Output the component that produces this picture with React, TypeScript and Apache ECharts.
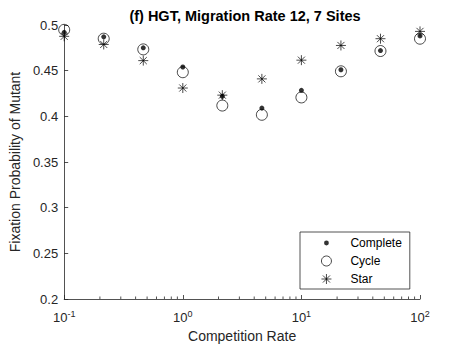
import React, { useEffect, useRef } from "react";
import * as echarts from "echarts";

const competitionRates = [0.1, 0.2154, 0.4642, 1, 2.154, 4.642, 10, 21.54, 46.42, 100];
const completeValues = [0.492, 0.487, 0.475, 0.454, 0.422, 0.409, 0.4285, 0.451, 0.472, 0.488];
const cycleValues = [0.4947, 0.485, 0.4733, 0.4483, 0.4118, 0.4017, 0.4207, 0.4493, 0.4715, 0.485];
const starValues = [0.4876, 0.4787, 0.461, 0.431, 0.4232, 0.441, 0.4615, 0.4776, 0.485, 0.493];
const minorTickValues = [
  0.2, 0.3, 0.4, 0.5, 0.6, 0.7, 0.8, 0.9,
  2, 3, 4, 5, 6, 7, 8, 9,
  20, 30, 40, 50, 60, 70, 80, 90,
];
const seriesNames = ["Complete", "Cycle", "Star"];
const titleText = "(f) HGT, Migration Rate 12, 7 Sites";
const xAxisTitle = "Competition Rate";
const yAxisTitle = "Fixation Probability of Mutant";

const FONT = "'Liberation Sans', Arial, Helvetica, sans-serif";
const AX = "#262626";
const STAR_PATH =
  "path://M5,0L5,10M0,5L10,5M1.46,1.46L8.54,8.54M1.46,8.54L8.54,1.46";
const DOT_LEGEND_PATH =
  "path://M0,0M10,10M7.4,5A2.4,2.4,0,1,1,2.6,5A2.4,2.4,0,1,1,7.4,5Z";
const OPEN_STYLE = { color: "transparent", borderColor: "#000", borderWidth: 0.9 };

function pairs(ys: number[]) {
  return competitionRates.map((x, i) => [x, ys[i]]);
}

export default function App() {
  const ref = useRef<HTMLDivElement | null>(null);
  useEffect(() => {
    if (!ref.current) return;
    const chart = echarts.init(ref.current, undefined, { renderer: "svg" });
    chart.setOption({
      animation: false,
      backgroundColor: "#ffffff",
      title: {
        text: titleText,
        left: 240,
        top: 3,
        textAlign: "center",
        textStyle: { fontFamily: FONT, fontSize: 14.5, fontWeight: "bold", color: "#000" },
      },
      grid: { left: 60, right: 44, top: 25, bottom: 48, containLabel: false },
      legend: {
        orient: "vertical",
        left: 300,
        top: 232,
        data: [
          { name: seriesNames[0], icon: DOT_LEGEND_PATH, itemStyle: { color: "#000", borderWidth: 0 } },
          { name: seriesNames[1], icon: "circle", itemStyle: OPEN_STYLE },
          { name: seriesNames[2], icon: STAR_PATH, itemStyle: OPEN_STYLE },
        ],
        backgroundColor: "#fff",
        borderColor: AX,
        borderWidth: 0.8,
        borderRadius: 0,
        padding: [4, 8, 3, 21],
        itemWidth: 10,
        itemHeight: 10,
        itemGap: 4,
        selectedMode: false,
        textStyle: {
          fontFamily: FONT,
          fontSize: 12,
          color: "#000",
          lineHeight: 14,
          padding: [0, 0, 0, 14],
        },
      },
      xAxis: {
        type: "log",
        logBase: 10,
        min: 0.1,
        max: 100,
        name: xAxisTitle,
        nameLocation: "middle",
        nameGap: 30,
        nameTextStyle: { fontFamily: FONT, fontSize: 14, color: AX },
        axisLine: { onZero: false, lineStyle: { color: AX, width: 0.8 } },
        axisTick: { inside: true, length: 4, lineStyle: { color: AX, width: 0.8 } },
        minorTick: { show: false },
        splitLine: { show: false },
        axisLabel: {
          margin: 10,
          color: AX,
          fontFamily: FONT,
          formatter: (v: number) => `{b|10}{s|${Math.round(Math.log10(v))}}`,
          rich: {
            b: { fontFamily: FONT, fontSize: 13, color: AX },
            s: { fontFamily: FONT, fontSize: 9, color: AX, verticalAlign: "top", padding: [0, 0, 8, 0] },
          },
        },
      },
      yAxis: {
        type: "value",
        min: 0.2,
        max: 0.5,
        interval: 0.05,
        name: yAxisTitle,
        nameLocation: "middle",
        nameGap: 38,
        nameTextStyle: { fontFamily: FONT, fontSize: 14, color: AX },
        axisLine: { show: true, lineStyle: { color: AX, width: 0.8 } },
        axisTick: { show: true, inside: true, length: 4, lineStyle: { color: AX, width: 0.8 } },
        splitLine: { show: false },
        axisLabel: { margin: 6, color: AX, fontFamily: FONT, fontSize: 13 },
      },
      series: [
        {
          name: "minorTicks",
          type: "custom",
          silent: true,
          clip: false,
          data: minorTickValues.map((v) => [v, 0.2]),
          renderItem: (_params: any, api: any) => {
            const p = api.coord([api.value(0), api.value(1)]);
            return {
              type: "line",
              shape: { x1: p[0], y1: p[1], x2: p[0], y2: p[1] - 2.5 },
              style: { stroke: AX, lineWidth: 0.8 },
            };
          },
          z: 1,
        },
        {
          name: seriesNames[0],
          type: "scatter",
          data: pairs(completeValues),
          symbol: "circle",
          symbolSize: 5,
          itemStyle: { color: "#000" },
          z: 3,
        },
        {
          name: seriesNames[1],
          type: "scatter",
          data: pairs(cycleValues),
          symbol: "circle",
          symbolSize: 11,
          itemStyle: OPEN_STYLE,
          z: 2,
        },
        {
          name: seriesNames[2],
          type: "scatter",
          data: pairs(starValues),
          symbol: STAR_PATH,
          symbolSize: 10,
          itemStyle: OPEN_STYLE,
          z: 4,
        },
      ],
    });
    return () => chart.dispose();
  }, []);
  return (
    <div
      ref={ref}
      style={{ position: "fixed", left: 0, top: 0, width: 464, height: 348, background: "#fff" }}
    />
  );
}
